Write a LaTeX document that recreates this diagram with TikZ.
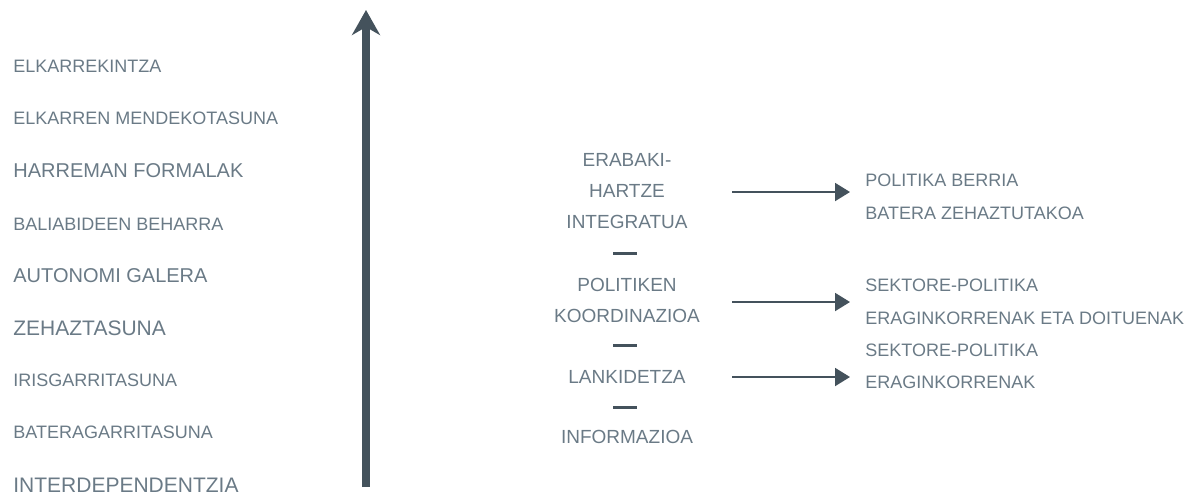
\documentclass[tikz,border=0pt]{standalone}
\usepackage{fontspec}
\setmainfont{Liberation Sans}
\usetikzlibrary{arrows.meta}
\definecolor{labelcolor}{RGB}{106,122,134}
\definecolor{linecolor}{RGB}{68,82,92}
\newlength{\du}
\setlength{\du}{0.5pt}
\tikzset{
  lefttext/.style={anchor=west, inner sep=0pt, text=labelcolor},
  midtext/.style={align=center, inner sep=0pt, text=labelcolor, font=\fontsize{9.5}{15.5}\selectfont},
  righttext/.style={anchor=west, align=left, inner sep=0pt, text=labelcolor, font=\fontsize{9}{16.5}\selectfont},
  bigarrow/.style={draw=linecolor, line width=3.75pt, -{Stealth[length=12.5pt,width=14pt,inset=4pt]}},
  smallarrow/.style={draw=linecolor, line width=1pt, -{Triangle[length=7.5pt,width=9pt]}},
  sepline/.style={draw=linecolor, line width=1.5pt},
}
\begin{document}
\begin{tikzpicture}[x=\du, y=-\du]
\useasboundingbox (0,0) rectangle (1192,495);
% left column
\node[lefttext, font=\fontsize{9}{9}\selectfont] (elkarrekintza) at (13,66) {ELKARREKINTZA};
\node[lefttext, font=\fontsize{9}{9}\selectfont] (mendekotasuna) at (13,118) {ELKARREN MENDEKOTASUNA};
\node[lefttext, font=\fontsize{10}{10}\selectfont] (harreman) at (13,171) {HARREMAN FORMALAK};
\node[lefttext, font=\fontsize{9}{9}\selectfont] (baliabide) at (13,224) {BALIABIDEEN BEHARRA};
\node[lefttext, font=\fontsize{10}{10}\selectfont] (autonomi) at (13,276) {AUTONOMI GALERA};
\node[lefttext, font=\fontsize{10.5}{10.5}\selectfont] (zehaztasuna) at (13,328) {ZEHAZTASUNA};
\node[lefttext, font=\fontsize{9}{9}\selectfont] (irisgarri) at (13,380) {IRISGARRITASUNA};
\node[lefttext, font=\fontsize{9}{9}\selectfont] (bateragarri) at (13,432) {BATERAGARRITASUNA};
\node[lefttext, font=\fontsize{10.5}{10.5}\selectfont] (interdep) at (13,485) {INTERDEPENDENTZIA};
% scale arrow
\coordinate (scalebot) at (366,487);
\coordinate (scaletop) at (366,10);
\draw[bigarrow] (scalebot) -- (scaletop);
% middle column
\node[midtext] (erabaki) at (627,191) {ERABAKI-\\HARTZE\\INTEGRATUA};
\node[midtext] (politiken) at (627,300.5) {POLITIKEN\\KOORDINAZIOA};
\node[midtext] (lankidetza) at (627,377) {LANKIDETZA};
\node[midtext] (informazioa) at (627,437) {INFORMAZIOA};
\draw[sepline] (613,253) -- (637,253);
\draw[sepline] (613,345) -- (637,345);
\draw[sepline] (613,407) -- (637,407);
% right column
\node[righttext] (berria) at (865,196.5) {POLITIKA BERRIA\\BATERA ZEHAZTUTAKOA};
\node[righttext] (doituenak) at (865,301.5) {SEKTORE-POLITIKA\\ERAGINKORRENAK ETA DOITUENAK};
\node[righttext, font=\fontsize{9}{16}\selectfont] (eraginkor) at (865,366) {SEKTORE-POLITIKA\\ERAGINKORRENAK};
% arrows
\coordinate (a1s) at (732,192);
\coordinate (a1e) at (850,192);
\coordinate (a2s) at (732,302);
\coordinate (a2e) at (850,302);
\coordinate (a3s) at (732,377);
\coordinate (a3e) at (850,377);
\draw[smallarrow] (a1s) -- (a1e);
\draw[smallarrow] (a2s) -- (a2e);
\draw[smallarrow] (a3s) -- (a3e);
\end{tikzpicture}
\end{document}
